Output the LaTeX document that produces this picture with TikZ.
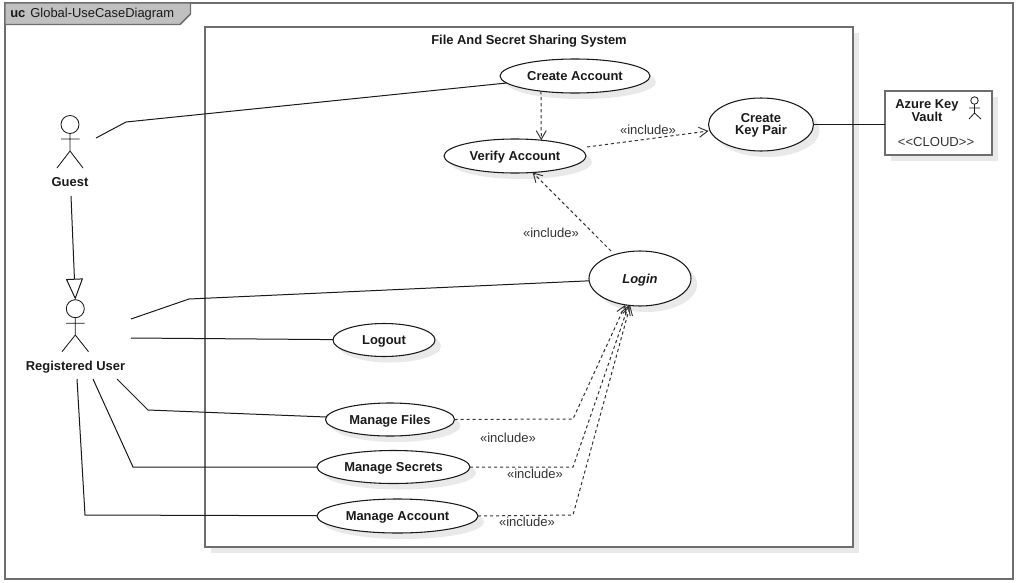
\documentclass[tikz,border=0pt]{standalone}
\usepackage{fontspec}
\setmainfont{Liberation Sans}
\usetikzlibrary{shapes.geometric,shapes.misc,arrows.meta,shadows,calc}
\definecolor{framegray}{HTML}{6E6E6E}
\definecolor{shadowgray}{HTML}{E9E9E9}
\definecolor{tabgray}{HTML}{C0C0C0}
\definecolor{inkdark}{HTML}{1A1A1A}
\definecolor{labelgray}{HTML}{333333}
\newcommand{\lowertext}[1]{\raisebox{-0.9pt}[\height][\depth]{#1}}
\tikzset{
  x=0.75pt,y=-0.75pt,
  pxsize/.style 2 args={minimum width=#1*0.75pt,minimum height=#2*0.75pt},
  softshadow/.style={general shadow={fill=shadowgray,draw=none,shadow xshift=4.5pt,shadow yshift=-4.5pt}},
  usecase/.style={ellipse,draw=inkdark,line width=0.8pt,fill=white,inner sep=0pt,outer sep=0pt,
    font=\fontsize{9.7pt}{9.8pt}\selectfont\bfseries,text=inkdark,align=center,softshadow},
  actorlabel/.style={font=\fontsize{9.7pt}{11pt}\selectfont\bfseries,text=inkdark,inner sep=0pt,align=center},
  stick/.style={draw=inkdark,line width=0.65pt},
  assoc/.style={draw=inkdark,line width=0.75pt},
  incl/.style={draw=labelgray,line width=0.75pt,dash pattern=on 2.4pt off 2.1pt,
    -{Straight Barb[length=6.5pt,width=7.5pt,line width=0.7pt]}},
  incllabel/.style={font=\fontsize{9.8pt}{11pt}\selectfont,text=labelgray,inner sep=0pt},
}
\begin{document}
\begin{tikzpicture}
\useasboundingbox (0,0) rectangle (1017,582);
\fill[white] (0,0) rectangle (1017,582);
% outer frame
\draw[framegray,line width=1.1pt] (5,3) rectangle (1013,579);
\filldraw[fill=tabgray,draw=framegray,line width=1.1pt] (5,3) -- (190.5,3) -- (190.5,14) -- (180,24.5) -- (5,24.5) -- cycle;
\node[anchor=west,inner sep=0pt,font=\fontsize{9.7pt}{11pt}\selectfont,text=inkdark] (frametitle) at (10,14) {\textbf{uc}\hspace{3.8pt}Global-UseCaseDiagram};
% system boundary
\node[draw=framegray,line width=1.5pt,fill=white,softshadow,inner sep=0pt,outer sep=0pt,anchor=north west,pxsize={648}{520}] (sys) at (205,27) {};
\node[actorlabel] (systitle) at (529,40.7) {File And Secret Sharing System};
% use cases
\node[usecase,pxsize={150}{34}] (ca) at (575,76) {Create Account};
\node[usecase,pxsize={142}{34}] (va) at (515,156) {\lowertext{Verify Account}};
\node[usecase,pxsize={105}{53}] (kp) at (761,124.5) {\lowertext{\shortstack{Create\\[-1.1pt]Key Pair}}};
\node[usecase,pxsize={102}{55}] (login) at (640,278.5) {\lowertext{\itshape Login}};
\node[usecase,pxsize={102}{33}] (logout) at (384,340) {\lowertext{Logout}};
\node[usecase,pxsize={129}{33}] (mf) at (390,419.5) {\lowertext{Manage Files}};
\node[usecase,pxsize={153}{33}] (ms) at (393.5,467) {\lowertext{Manage Secrets}};
\node[usecase,pxsize={161}{34}] (ma) at (397.5,516) {\lowertext{Manage Account}};
% Azure box
\node[draw=framegray,line width=1.1pt,fill=white,softshadow,inner sep=0pt,outer sep=0pt,anchor=north west,pxsize={107}{64}] (az) at (885,91) {};
\node[actorlabel,font=\fontsize{9.7pt}{9.8pt}\selectfont\bfseries] (aztitle) at (927,110.5) {Azure Key\\Vault};
\node[incllabel] (azstereo) at (936,141.5) {<{}<CLOUD>{}>};
\node[circle,draw=inkdark,line width=0.6pt,inner sep=0pt,pxsize={7.5}{7.5},outer sep=0pt] (azhead) at (974.5,100.5) {};
\draw[stick,line width=0.6pt] (azhead.south) -- (974.5,113) (969,108) -- (980,108) (969,119) -- (974.5,113) -- (981,119);
% actors
\node[circle,draw=inkdark,line width=0.65pt,fill=white,inner sep=0pt,outer sep=0pt,pxsize={18}{18}] (guesthead) at (70,124.5) {};
\draw[stick] (guesthead.south) -- (70,151) (61,139) -- (79.5,139) (57,168) -- (70,151) -- (83,168);
\node[actorlabel] (guest) at (70,181.7) {Guest};
\node[circle,draw=inkdark,line width=0.65pt,fill=white,inner sep=0pt,outer sep=0pt,pxsize={18}{18}] (ruhead) at (75.3,308.7) {};
\draw[stick] (ruhead.south) -- (75.3,335) (66,323.3) -- (84.7,323.3) (62,351.7) -- (75.3,335) -- (88.5,351.7);
\node[actorlabel] (ru) at (75.5,366.7) {Registered User};
% free ends of connectors
\coordinate (gA) at (96,138);
\coordinate (gB) at (126,122);
\coordinate (gC) at (71,196);
\coordinate (rA) at (131,319);
\coordinate (rB) at (189,299);
\coordinate (rC) at (131,338);
\coordinate (rD) at (117,379);
\coordinate (rE) at (148,410);
\coordinate (rF) at (93,379);
\coordinate (rG) at (133,467);
\coordinate (rH) at (77,379);
\coordinate (rI) at (85,515);
\coordinate (mfB) at (573,419);
\coordinate (msB) at (573,467);
\coordinate (maB) at (573,515);
% associations
\draw[assoc] (gA) -- (gB) -- (ca);
\draw[assoc] (rA) -- (rB) -- (login);
\draw[assoc] (rC) -- (logout);
\draw[assoc] (rD) -- (rE) -- (mf);
\draw[assoc] (rF) -- (rG) -- (ms);
\draw[assoc] (rH) -- (rI) -- (ma);
\draw[draw=inkdark,line width=0.75pt] (kp.east) -- (kp.east -| az.west);
% generalisation
\draw[draw=inkdark,line width=0.75pt,-{Triangle[open,length=15.75pt,width=12.75pt,fill=white,line width=0.75pt]}] (gC) -- (ruhead.north);
% includes
\draw[incl] (ca.204) -- (va.31.3);
\draw[incl] ($(va.east)+(1,-9)$) -- ($(kp.west)+(0,6.5)$);
\draw[incl] ($(login)+(-29,-27.5)$) -- (va.317);
\draw[incl] (mf.east) -- (mfB) -- (login.241);
\draw[incl] (ms.east) -- (msB) -- (login.247);
\draw[incl] (ma.east) -- (maB) -- (login.250);
% include labels
\node[incllabel] (i1) at (648,130) {«include»};
\node[incllabel] (i2) at (551,233) {«include»};
\node[incllabel] (i3) at (508,438) {«include»};
\node[incllabel] (i4) at (535,474) {«include»};
\node[incllabel] (i5) at (527,522) {«include»};
\end{tikzpicture}
\end{document}
